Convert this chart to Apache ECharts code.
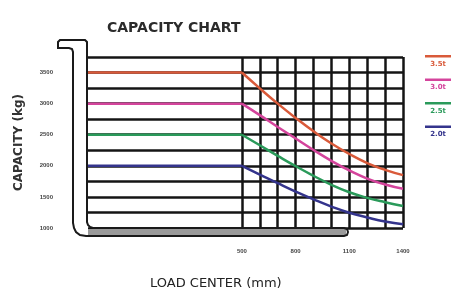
<!DOCTYPE html>
<html>
<head>
<meta charset="utf-8">
<script src="https://cdn.jsdelivr.net/npm/echarts@6/dist/echarts.min.js"></script>
<style>
  html, body { margin: 0; padding: 0; background: #fff; }
  #chart { width: 455px; height: 288px; }
</style>
</head>
<body>
<div id="chart"></div>
<script>
// load centre (mm) along the curved part
const loadCenters = [500, 600, 700, 800, 900, 1000, 1100, 1200, 1300, 1400];
const flatStart = -360; // left edge of the flat part

const seriesNames = ['3.5t', '3.0t', '2.5t', '2.0t'];
const seriesColors = ['#d95a3a', '#d4449c', '#2a9a5a', '#34348c'];
const cap35 = [3500, 3245, 3000, 2770, 2555, 2360, 2190, 2045, 1935, 1850];
const cap30 = [3000, 2815, 2625, 2440, 2255, 2080, 1925, 1795, 1700, 1630];
const cap25 = [2500, 2330, 2160, 1995, 1840, 1695, 1575, 1485, 1415, 1355];
const cap20 = [2000, 1860, 1720, 1585, 1460, 1345, 1245, 1170, 1105, 1060];

const yLabels = [1000, 1500, 2000, 2500, 3000, 3500];
const xLabels = [500, 800, 1100, 1400];

const chart = echarts.init(document.getElementById('chart'));

// each rating: flat part up to 500 mm, then the curve
function buildLines(name, color, caps) {
  const common = {
    name,
    type: 'line',
    symbol: 'none',
    z: 5,
    lineStyle: { width: 2.5, color },
    itemStyle: { color },
  };
  return [
    Object.assign({}, common, { data: [[flatStart, caps[0]], [loadCenters[0], caps[0]]] }),
    Object.assign({}, common, { data: loadCenters.map((c, i) => [c, caps[i]]), smooth: 0.5 }),
  ];
}

const legendItems = [];
seriesNames.forEach((name, i) => {
  const y = 56 + i * 23.5;
  legendItems.push({
    type: 'rect',
    shape: { x: 425, y: y - 1, width: 26, height: 2.5 },
    style: { fill: seriesColors[i] },
  });
  legendItems.push({
    type: 'text',
    x: 438,
    y: y + 8,
    style: {
      text: name, fill: seriesColors[i], font: 'bold 7px "DejaVu Sans"',
      align: 'center', verticalAlign: 'middle',
    },
  });
});

// fork outline (decoration)
const forkPoints = [
  [58, 48], [58, 42], [60, 40], [85, 40], [87, 42], [87, 222], [88, 225], [90, 227], [93, 228],
  [344, 228], [347, 229], [348, 232], [347, 235], [344, 236], [86, 236], [80, 235], [76, 232],
  [74, 228], [73, 223], [73, 52], [72, 49], [69, 48],
];

const option = {
  backgroundColor: '#fff',
  animation: false,
  title: [
    {
      text: 'CAPACITY CHART',
      left: 102, top: 16,
      textStyle: { fontSize: 14, fontWeight: 'bold', color: '#2b2b2b', fontFamily: '"DejaVu Sans"' },
    },
    {
      text: 'LOAD CENTER (mm)',
      left: 145, top: 272,
      textStyle: { fontSize: 13, fontWeight: 'normal', color: '#222', fontFamily: '"DejaVu Sans"' },
    },
  ],
  grid: { left: 88, right: 52, top: 57, bottom: 60 },
  xAxis: {
    type: 'value',
    min: flatStart,
    max: 1400,
    axisLine: { show: false },
    axisTick: { show: false },
    splitLine: { show: false },
    axisLabel: {
      customValues: xLabels,
      formatter: (v) => String(v),
      margin: 20,
      fontSize: 6,
      fontWeight: 'bold',
      color: '#444',
    },
  },
  yAxis: {
    type: 'value',
    min: 1000,
    max: 3750,
    interval: 250,
    name: 'CAPACITY (kg)',
    nameLocation: 'middle',
    nameGap: 63,
    nameTextStyle: { fontSize: 12, fontWeight: 'bold', color: '#333', fontFamily: '"DejaVu Sans"' },
    axisLine: { show: false },
    axisTick: { show: false },
    splitLine: { lineStyle: { color: '#141414', width: 2.5 } },
    axisLabel: {
      customValues: yLabels,
      formatter: (v) => String(v),
      margin: 35,
      fontSize: 6,
      fontWeight: 'bold',
      color: '#444',
    },
  },
  series: [].concat(
    buildLines(seriesNames[0], seriesColors[0], cap35),
    buildLines(seriesNames[1], seriesColors[1], cap30),
    buildLines(seriesNames[2], seriesColors[2], cap25),
    buildLines(seriesNames[3], seriesColors[3], cap20),
    [{
      type: 'line',
      data: [],
      silent: true,
      z: 6,
      markLine: {
        silent: true,
        symbol: 'none',
        label: { show: false },
        lineStyle: { color: '#141414', width: 2.5, type: 'solid' },
        data: loadCenters.map((c) => ({ xAxis: c })),
      },
    }]
  ),
  graphic: [
    {
      type: 'polygon',
      z: 10,
      shape: { points: forkPoints },
      style: { fill: 'none', stroke: '#1a1a1a', lineWidth: 2 },
    },
    {
      type: 'rect',
      z: 9,
      shape: { x: 88, y: 229, width: 258, height: 6 },
      style: { fill: '#9a9a9a' },
    },
  ].concat(legendItems),
};

chart.setOption(option);
</script>
</body>
</html>
